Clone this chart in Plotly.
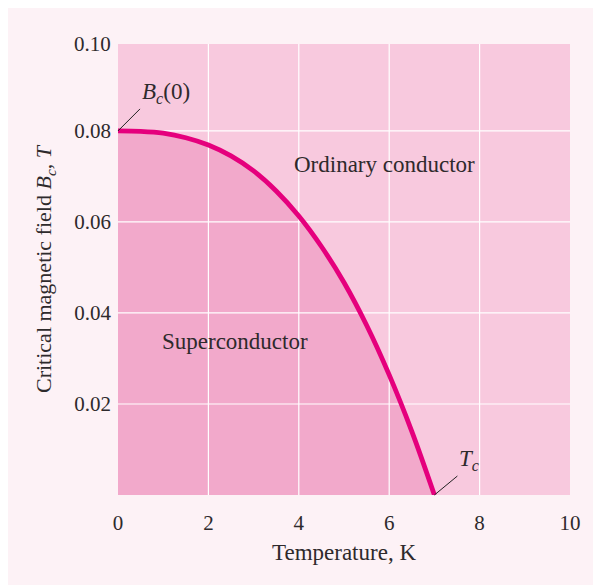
import plotly.graph_objects as go

# Data
temperature_K = [0, 0.5, 1, 1.5, 2, 2.5, 3, 3.5, 4, 4.5, 5, 5.5, 6, 6.5, 7]
critical_field_T = [0.0800, 0.0799, 0.0795, 0.0785, 0.0769, 0.0745, 0.0712, 0.0668,
                    0.0613, 0.0546, 0.0467, 0.0373, 0.0264, 0.0140, 0.0]

x_ticks = [0, 2, 4, 6, 8, 10]
y_ticks = [0.02, 0.04, 0.06, 0.08]
y_tick_labels = ["0.02", "0.04", "0.06", "0.08"]
y_top_label = "0.10"
y_max = 0.0991

FONT = "Liberation Serif, Times New Roman, serif"
TXT = "#2e2a2c"
GRID = "#ffffff"

fig = go.Figure()

# superconducting region (filled under curve)
fig.add_trace(go.Scatter(x=temperature_K, y=critical_field_T, mode="lines", fill="tozeroy",
                         line_shape="spline",
                         fillcolor="#f2a9cb", line=dict(width=0, color="#f2a9cb"),
                         hoverinfo="skip", showlegend=False))

# gridlines on top of the fill
for t in x_ticks[1:-1]:
    fig.add_trace(go.Scatter(x=[t, t], y=[0, y_max], mode="lines",
                             line=dict(color=GRID, width=1.2), hoverinfo="skip", showlegend=False))
for v in y_ticks:
    fig.add_trace(go.Scatter(x=[0, 10], y=[v, v], mode="lines",
                             line=dict(color=GRID, width=1.2), hoverinfo="skip", showlegend=False))

# critical field curve
fig.add_trace(go.Scatter(x=temperature_K, y=critical_field_T, mode="lines", line_shape="spline",
                         line=dict(color="#e5007d", width=4.8), showlegend=False))

fig.update_layout(
    width=601, height=585,
    margin=dict(l=110, r=39, t=36, b=98),
    paper_bgcolor="#fdf2f6",
    plot_bgcolor="#f8c9de",
    font=dict(family=FONT, size=21, color=TXT),
    xaxis=dict(range=[0, 10], tickvals=x_ticks, showgrid=False, zeroline=False,
               showline=False, ticks="", ticklabelstandoff=13, automargin=False,
               tickfont=dict(size=21),
               title=dict(text="Temperature, K", font=dict(size=23), standoff=9)),
    yaxis=dict(range=[0, y_max], tickvals=y_ticks, ticktext=y_tick_labels,
               showgrid=False, zeroline=False, showline=False, ticks="",
               ticklabelstandoff=6, automargin=False, tickfont=dict(size=21),
               title=dict(text="Critical magnetic field <i>B<sub>c</sub></i>, <i>T</i>",
                          font=dict(size=22), standoff=16)),
)

# top y label placed at the top edge of the plot
fig.add_annotation(xref="paper", yref="paper", x=0, y=1, text=y_top_label,
                   showarrow=False, xanchor="right", yanchor="middle", xshift=-5,
                   font=dict(size=21, color=TXT))

# region labels
fig.add_annotation(x=5.9, y=0.0727, text="Ordinary conductor", showarrow=False,
                   font=dict(size=23, color=TXT))
fig.add_annotation(x=2.58, y=0.0337, text="Superconductor", showarrow=False,
                   font=dict(size=23, color=TXT))

# labels with leader lines
fig.add_annotation(x=temperature_K[0], y=critical_field_T[0], text="<i>B<sub>c</sub></i>(0)",
                   showarrow=True, arrowhead=0, arrowwidth=1, arrowcolor="#222",
                   ax=22, ay=-22, xanchor="left", yanchor="bottom",
                   font=dict(size=23, color=TXT))
fig.add_annotation(x=temperature_K[-1], y=critical_field_T[-1], text="<i>T<sub>c</sub></i>",
                   showarrow=True, arrowhead=0, arrowwidth=1, arrowcolor="#222",
                   ax=23, ay=-19, xanchor="left", yanchor="bottom",
                   font=dict(size=23, color=TXT))

fig.write_html("out.html")
